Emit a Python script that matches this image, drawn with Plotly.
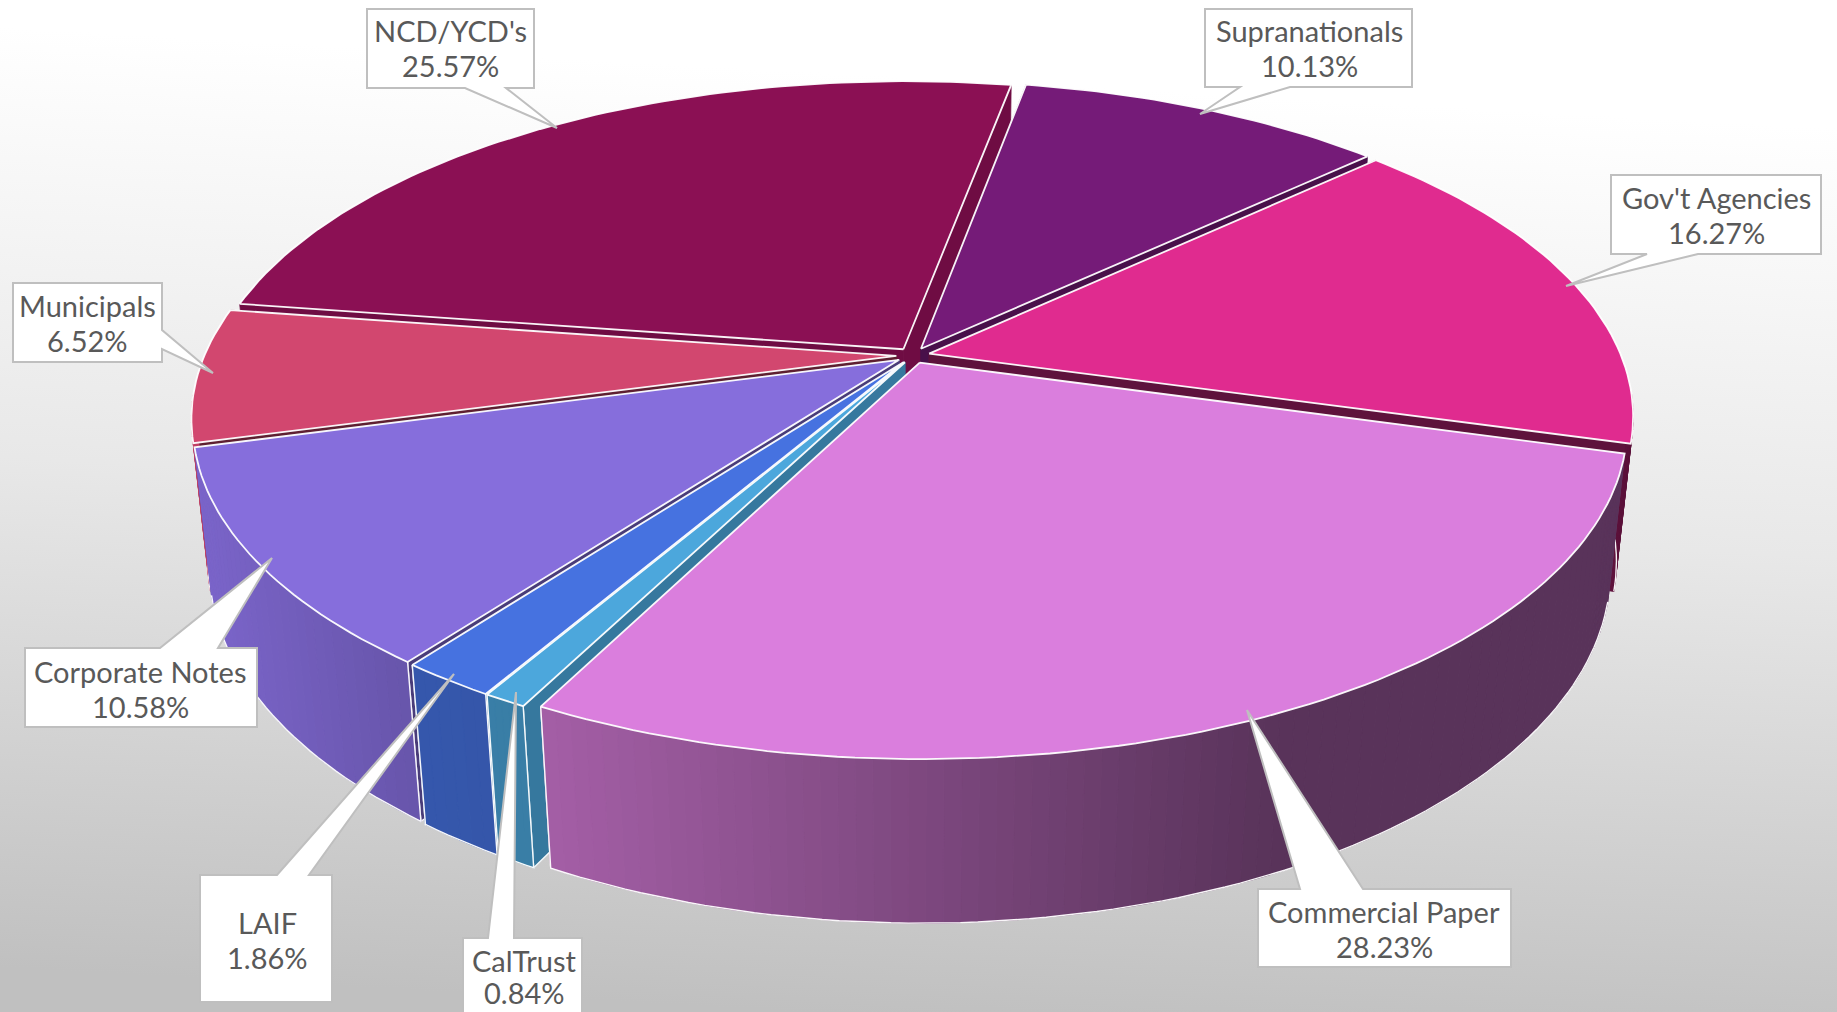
import base64
import numpy as np
import plotly.graph_objects as go

# ---- data (clockwise from the first slice after the back of the pie)
categories = ["Supranationals", "Gov't Agencies", "Commercial Paper", "CalTrust", "LAIF",
              "Corporate Notes", "Municipals", "NCD/YCD's"]
values = [10.13, 16.27, 28.23, 0.84, 1.86, 10.58, 6.52, 25.57]
colors = ["#751B78", "#E02B8F", "#DA7EDD", "#4CA7DC", "#4672E0", "#866EDC", "#D2476F", "#8B1054"]
edge_shade = [0.62, 0.42, 0.5, 0.72, 0.75, 0.55, 0.45, 0.8]
draw_order = ["NCD/YCD's", "Supranationals", "Gov't Agencies", "Municipals", "Corporate Notes",
              "LAIF", "CalTrust", "Commercial Paper"]

# ---- view
W, H = 1837, 1012
CX, CY = 913.0, 355.5
RX, RY = 692.0, 320.0
PERSP, DEPTH_SCALE, DEPTH = 0.1856, 0.023, 146.0
START_DEG, EXPLODE = 10.5, 0.024
FRONT_V = 0.1
EDGE_V = 0.5
WHITE = "rgba(255,255,255,0.95)"


def project(u, v, h):
    w = 1 - PERSP * v + DEPTH_SCALE * h
    return CX + RX * u / w, CY + (RY * v + DEPTH * h) / w


def shade(hex_color, f):
    r, g, b = [int(hex_color[i:i + 2], 16) for i in (1, 3, 5)]
    return f"rgb({int(r * f)},{int(g * f)},{int(b * f)})"


shade_x = [193, 420, 550, 1280]
shade_f = [0.92, 0.77, 0.75, 0.41]

fig = go.Figure()


def poly(xs, ys, fill, line=None, lw=1.0):
    fig.add_trace(go.Scatter(x=list(xs), y=list(ys), mode="lines", fill="toself", fillcolor=fill,
                             line=dict(color=line or fill, width=lw), hoverinfo="skip", showlegend=False))


def outline(xs, ys, lw=1.6):
    fig.add_trace(go.Scatter(x=list(xs), y=list(ys), mode="lines", line=dict(color=WHITE, width=lw),
                             hoverinfo="skip", showlegend=False))


cum = np.cumsum([0] + values) / sum(values) * 360 + START_DEG
spans = {c: (cum[i], cum[i + 1], colors[i], edge_shade[i]) for i, c in enumerate(categories)}

for name in draw_order:
    a0, a1, col, esh = spans[name]
    mid = np.radians((a0 + a1) / 2)
    du, dv = EXPLODE * np.sin(mid), -EXPLODE * np.cos(mid)
    th = np.radians(np.linspace(a0, a1, max(6, int((a1 - a0) / 1.2) + 2)))
    u, v = du + np.sin(th), dv - np.cos(th)

    # radial walls: the hidden one first, the one that faces the viewer last
    for k in ((0, -1) if np.sin(mid) > 0 else (-1, 0)):
        p0, p1, p2, p3 = project(du, dv, 0), project(u[k], v[k], 0), project(u[k], v[k], 1), project(du, dv, 1)
        xs, ys = zip(p0, p1, p2, p3, p0)
        c = shade(col, esh)
        poly(xs, ys, c, c, 0.8)
        if v[k] > EDGE_V:
            outline([p1[0], p2[0], p3[0]], [p1[1], p2[1], p3[1]], 1.4)

    # outer wall, shaded in strips (only the part that faces the viewer)
    tx, ty = project(u, v, 0)
    bx, by = project(u, v, 1)
    vis = np.where(v > FRONT_V)[0]
    if len(vis) > 1:
        for i in vis[:-1]:
            f = float(np.interp((tx[i] + tx[i + 1]) / 2, shade_x, shade_f))
            c = shade(col, f)
            poly([tx[i], tx[i + 1], bx[i + 1], bx[i], tx[i]], [ty[i], ty[i + 1], by[i + 1], by[i], ty[i]], c, c, 1.0)
        lx, ly = list(bx[vis]), list(by[vis])
        if v[vis[0]] > EDGE_V:
            lx, ly = [tx[vis[0]]] + lx, [ty[vis[0]]] + ly
        if v[vis[-1]] > EDGE_V:
            lx, ly = lx + [tx[vis[-1]]], ly + [ty[vis[-1]]]
        outline(lx, ly, 1.4)

    # top face
    ax, ay = project(du, dv, 0)
    poly([ax, *tx, ax], [ay, *ty, ay], col, WHITE, 1.8)

# ---- callouts
callout_polys = [
    [(367, 9), (534, 9), (534, 88), (506, 88), (557, 128), (465, 88), (367, 88)],
    [(1205, 9), (1412, 9), (1412, 87), (1290, 87), (1200, 114), (1240, 87), (1205, 87)],
    [(1611, 175), (1821, 175), (1821, 254), (1698, 254), (1566, 286), (1647, 254), (1611, 254)],
    [(13, 283), (162, 283), (162, 330), (213, 373), (162, 349), (162, 362), (13, 362)],
    [(25, 648), (160, 648), (272, 558), (218, 648), (257, 648), (257, 727), (25, 727)],
    [(200, 875), (277, 875), (454, 674), (309, 875), (332, 875), (332, 1002), (200, 1002)],
    [(463, 938), (488, 938), (516, 692), (514, 938), (582, 938), (582, 1030), (463, 1030)],
    [(1258, 889), (1300, 889), (1247, 710), (1363, 889), (1511, 889), (1511, 967), (1258, 967)],
]
callout_text = [
    ("NCD/YCD's", "25.57%", 30, 65), ("Supranationals", "10.13%", 30, 65), ("Gov't Agencies", "16.27%", 197, 232),
    ("Municipals", "6.52%", 305, 340), ("Corporate Notes", "10.58%", 671, 706), ("LAIF", "1.86%", 922, 957),
    ("CalTrust", "0.84%", 960, 992), ("Commercial Paper", "28.23%", 911, 946),
]
callout_x = [450, 1309, 1716, 87, 140, 267, 524, 1384]
shapes = []
for p in callout_polys:
    path = "M " + " L ".join(f"{x},{y}" for x, y in p) + " Z"
    shapes.append(dict(type="path", path=path, xref="x", yref="y", fillcolor="white", layer="above",
                       line=dict(color="#BFBFBF", width=2)))
annotations = []
for (a, b, y1, y2), x in zip(callout_text, callout_x):
    for t, y in ((a, y1), (b, y2)):
        annotations.append(dict(x=x, y=y, xref="x", yref="y", text=t, showarrow=False, xanchor="center",
                                yanchor="middle", align="center",
                                font=dict(family="Lato", size=29, color="#595959")))

svg = ('<svg xmlns="http://www.w3.org/2000/svg" width="1837" height="1012"><defs>'
       '<linearGradient id="g" x1="0.54" y1="0" x2="0.44" y2="1">'
       '<stop offset="0" stop-color="#ffffff"/><stop offset="0.08" stop-color="#ffffff"/>'
       '<stop offset="0.5" stop-color="#e8e8e8"/><stop offset="1" stop-color="#c0c0c0"/></linearGradient></defs>'
       '<rect width="1837" height="1012" fill="url(#g)"/></svg>')
bg = "data:image/svg+xml;base64," + base64.b64encode(svg.encode()).decode()

fig.update_layout(
    width=W, height=H, margin=dict(l=0, r=0, t=0, b=0), showlegend=False,
    paper_bgcolor="white", plot_bgcolor="rgba(0,0,0,0)",
    xaxis=dict(range=[0, W], visible=False, fixedrange=True),
    yaxis=dict(range=[H, 0], visible=False, fixedrange=True),
    shapes=shapes, annotations=annotations,
    images=[dict(source=bg, xref="paper", yref="paper", x=0, y=1, sizex=1, sizey=1, xanchor="left", yanchor="top",
                 sizing="stretch", layer="below")],
)
fig.write_html("out.html", config=dict(displayModeBar=False),
               post_script="document.body.style.margin='0';document.body.style.overflow='hidden';")
